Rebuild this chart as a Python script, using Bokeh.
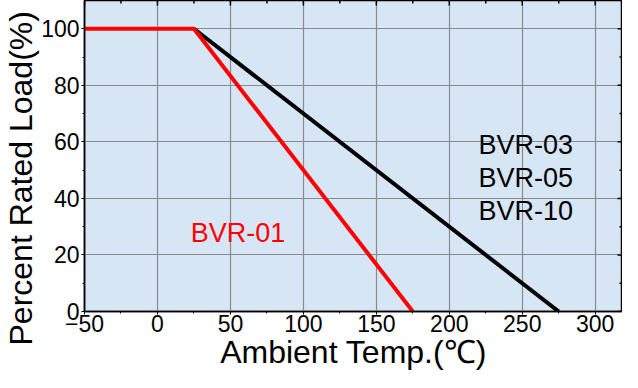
import math
from bokeh.plotting import figure
from bokeh.models import LinearAxis, FixedTicker, Range1d, Label, Title
from bokeh.embed import file_html
from bokeh.resources import INLINE

# Data
bvr01_temp = [-50, 25, 175]
bvr01_load = [100, 100, 0]
bvr03_temp = [25, 275]
bvr03_load = [100, 0]

x_major = [-50, 0, 50, 100, 150, 200, 250, 300]
x_minor = [-25, 25, 75, 125, 175, 225, 275]
y_major = [0, 20, 40, 60, 80, 100]
y_minor = [10, 30, 50, 70, 90]

label_01 = "BVR-01"
label_01_pos = (22.8, 27.9)
labels_03 = ["BVR-03", "BVR-05", "BVR-10"]
labels_03_x = 220
labels_03_y = [59.0, 47.2, 35.4]

X_END = 318.7
Y_END = 110

FONT = "Liberation Sans"

p = figure(width=622, height=372, output_backend="svg", toolbar_location=None,
           x_range=Range1d(-50, X_END), y_range=Range1d(0, Y_END),
           min_border_left=80, min_border_right=0, min_border_top=0,
           min_border_bottom=0, x_axis_location=None, y_axis_location=None)

p.background_fill_color = "#D7E6F4"
p.border_fill_color = "white"
p.outline_line_color = "black"
p.outline_line_width = 1.5

xt = FixedTicker(ticks=x_major, minor_ticks=x_minor)
yt = FixedTicker(ticks=y_major, minor_ticks=y_minor)

def style(ax):
    ax.axis_line_color = "black"
    ax.axis_line_width = 1.5
    ax.major_tick_line_color = "black"
    ax.minor_tick_line_color = "black"
    ax.major_tick_in = 0
    ax.major_tick_out = 3
    ax.minor_tick_in = 0
    ax.minor_tick_out = 2
    ax.major_label_text_font = FONT
    ax.major_label_text_font_size = "23px"
    ax.major_label_text_color = "black"
    ax.major_label_standoff = 0
    ax.axis_label_text_font = FONT
    ax.axis_label_text_font_size = "32px"
    ax.axis_label_text_font_style = "normal"
    ax.axis_label_text_color = "black"

bottom = LinearAxis(ticker=xt, axis_label="Ambient Temp.(℃)")
style(bottom)
bottom.axis_label_standoff = -1
bottom.axis_label_text_line_height = 0.85
bottom.major_label_text_line_height = 0.9
left = LinearAxis(ticker=yt)
style(left)
left.major_label_standoff = 2
p.add_layout(bottom, "below")
p.add_layout(left, "left")

ytitle = Title(text="Percent Rated Load(%)", align="left", offset=-34,
               standoff=0, text_font=FONT, text_font_size="32px",
               text_font_style="normal", text_color="black")
p.add_layout(ytitle, "left")

p.xgrid.ticker = xt
p.ygrid.ticker = yt
for g in (p.xgrid, p.ygrid):
    g.grid_line_color = "#8a8a8a"
    g.grid_line_width = 1.2

# inward ticks on top and right edges
p.ray(x=x_major, y=[Y_END] * len(x_major), length=5, length_units="screen",
      angle=-math.pi / 2, line_color="black", line_width=1.5)
p.ray(x=x_minor, y=[Y_END] * len(x_minor), length=3, length_units="screen",
      angle=-math.pi / 2, line_color="black", line_width=1.5)
p.ray(x=[X_END] * len(y_major), y=y_major, length=5, length_units="screen",
      angle=math.pi, line_color="black", line_width=1.5)
p.ray(x=[X_END] * len(y_minor), y=y_minor, length=3, length_units="screen",
      angle=math.pi, line_color="black", line_width=1.5)

p.line(bvr03_temp, bvr03_load, line_color="black", line_width=4)
p.line(bvr01_temp, bvr01_load, line_color="#FF0000", line_width=4)

p.add_layout(Label(x=label_01_pos[0], y=label_01_pos[1], text=label_01,
                   text_color="#FF0000", text_font=FONT, text_font_size="27px",
                   text_baseline="alphabetic"))
for t, yy in zip(labels_03, labels_03_y):
    p.add_layout(Label(x=labels_03_x, y=yy, text=t, text_color="black",
                       text_font=FONT, text_font_size="27px",
                       text_baseline="alphabetic"))

open("out.html", "w").write(file_html(p, INLINE))
